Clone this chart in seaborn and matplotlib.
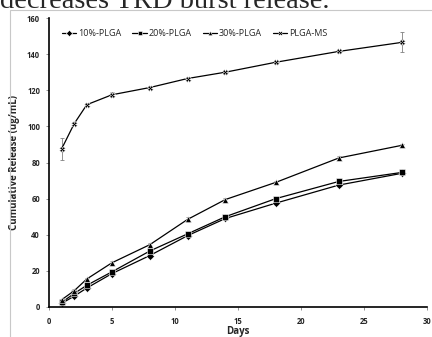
import numpy as np
import pandas as pd
import matplotlib
matplotlib.use('Agg')
import matplotlib.pyplot as plt
import seaborn as sns

days = [1, 2, 3, 5, 8, 11, 14, 18, 23, 28]

plga10 = [2.0, 6.0, 10.5, 18.5, 28.5, 39.5, 49.0, 57.5, 67.5, 74.0]
plga20 = [2.5, 7.5, 12.0, 19.5, 31.0, 40.5, 50.0, 60.0, 69.5, 74.5]
plga30 = [4.0, 9.0, 15.5, 24.5, 34.5, 48.5, 59.5, 69.0, 82.5, 89.5]
plga_ms = [87.5, 101.5, 112.0, 117.5, 121.5, 126.5, 130.0, 135.5, 141.5, 146.5]

err10 = [0.5, 0.8, 0.8, 1.0, 1.5, 1.5, 1.0, 1.2, 1.0, 1.0]
err20 = [0.5, 0.8, 0.8, 1.0, 1.0, 1.0, 1.0, 1.0, 1.0, 1.0]
err30 = [0.5, 0.8, 0.8, 1.0, 1.0, 1.5, 1.0, 1.0, 1.0, 1.0]
err_ms = [6.0, 1.0, 0.8, 1.5, 1.0, 1.0, 0.8, 0.8, 1.0, 5.5]

series = ['10%-PLGA', '20%-PLGA', '30%-PLGA', 'PLGA-MS']
values = [plga10, plga20, plga30, plga_ms]
errors = [err10, err20, err30, err_ms]

df = pd.DataFrame({
    'Days': days * 4,
    'Release': sum(values, []),
    'Series': [s for s in series for _ in days],
})

sns.set_style('white')
plt.rcParams['font.family'] = ['Open Sans', 'DejaVu Sans']

fig = plt.figure(figsize=(4.32, 3.37), dpi=100)

# gray frame of the figure box
fig.add_artist(plt.Rectangle((10 / 432, -0.1), 1.2, (337 - 10) / 337 + 0.1,
                             transform=fig.transFigure, fill=False,
                             edgecolor='#c8c8c8', linewidth=0.8))

# cut-off caption text above the chart
fig.text(0.0, (337 - 8) / 337, 'decreases TRD burst release.',
         family='Liberation Serif', fontsize=20.5, va='baseline', ha='left')

ax = fig.add_axes([49 / 432, 30 / 337, 378 / 432, 289 / 337])

markers = {'10%-PLGA': 'D', '20%-PLGA': 's', '30%-PLGA': '^', 'PLGA-MS': 'X'}

for s, v, e in zip(series, values, errors):
    ax.errorbar(days, v, yerr=e, fmt='none', ecolor='#808080',
                elinewidth=0.6, capsize=1.5, capthick=0.6, zorder=1)

sns.lineplot(data=df, x='Days', y='Release', hue='Series', style='Series',
             markers=markers, dashes=False, palette=['black'] * 4,
             linewidth=0.9, markersize=4, markeredgewidth=0.4,
             ax=ax, zorder=2)

ax.set_xlim(0, 30)
ax.set_ylim(0, 160)
ax.set_xticks(np.arange(0, 31, 5))
ax.set_yticks(np.arange(0, 161, 20))
for lab in ax.get_xticklabels() + ax.get_yticklabels():
    lab.set_fontweight('bold')
ax.tick_params(axis='both', labelsize=5.5, length=2.5, width=0.6,
               color='#808080', pad=4, direction='out')
ax.tick_params(axis='x', pad=5)
ax.tick_params(left=True, bottom=True)

for side in ['top', 'right']:
    ax.spines[side].set_visible(False)
for side in ['left', 'bottom']:
    ax.spines[side].set_color('black')
    ax.spines[side].set_linewidth(1.2)

ax.set_xlabel('Days', fontsize=7, fontweight='bold', labelpad=-0.5)
ax.set_ylabel('Cumulative Release (ug/mL)', fontsize=7, fontweight='bold',
              labelpad=5)

ax.legend(loc='upper left', bbox_to_anchor=(0.02, 0.98), ncol=4,
          frameon=False, fontsize=6.5, handlelength=1.6, handletextpad=0.2,
          columnspacing=1.2, borderaxespad=0.2, markerscale=0.8)

fig.savefig('out.png', dpi=100)
